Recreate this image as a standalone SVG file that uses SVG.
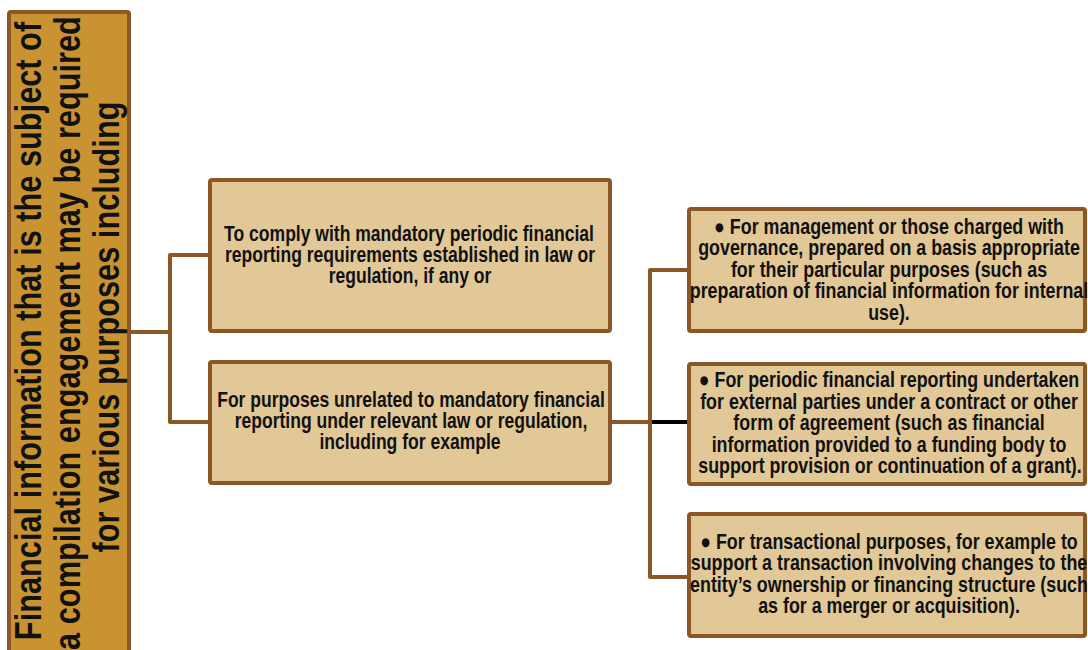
<svg xmlns="http://www.w3.org/2000/svg" width="1088" height="650" viewBox="0 0 1088 650">
<style>
.box{stroke:#8B5726;stroke-width:4;}
.root{fill:#C99332;}
.item{fill:#E2C897;}
.t{font-family:"Liberation Sans",Arial,sans-serif;font-weight:bold;fill:#111;text-anchor:middle;}
.big{font-size:37.5px;}
.md{font-size:21.4px;}
.sm{font-size:21.5px;}
.conn{fill:none;stroke:#8B5726;stroke-width:4;stroke-linejoin:round;}
.blk{fill:none;stroke:#000;stroke-width:4;}
</style>
<rect width="1088" height="650" fill="#fff"/>
<g id="connectors">
<path class="conn" d="M131 332 H170 M210 255 H170 V422 H210"/>
<path class="conn" d="M612 422 H650 M689 270 H650 V577 H689"/>
<path class="blk" d="M652 422 H689"/>
</g>
<g id="root">
<rect class="box root" x="9" y="12" width="120" height="660" rx="2"/>
<text class="t big" transform="translate(41 331) rotate(-90) scale(0.82 1)">Financial information that is the subject of</text>
<text class="t big" transform="translate(80 333) rotate(-90) scale(0.82 1)">a compilation engagement may be required</text>
<text class="t big" transform="translate(119 327) rotate(-90) scale(0.82 1)">for various purposes including</text>
</g>
<g id="mandatory">
<rect class="box item" x="210" y="180" width="400" height="151" rx="2"/>
<text class="t md" transform="translate(409 241) scale(0.82 1)">To comply with mandatory periodic financial</text>
<text class="t md" transform="translate(410 262) scale(0.82 1)">reporting requirements established in law or</text>
<text class="t md" transform="translate(410 283) scale(0.82 1)">regulation, if any or</text>
</g>
<g id="unrelated">
<rect class="box item" x="210" y="362" width="400" height="121" rx="2"/>
<text class="t md" transform="translate(411 407) scale(0.82 1)">For purposes unrelated to mandatory financial</text>
<text class="t md" transform="translate(411 428) scale(0.82 1)">reporting under relevant law or regulation,</text>
<text class="t md" transform="translate(410 449) scale(0.82 1)">including for example</text>
</g>
<g id="management">
<rect class="box item" x="689" y="209" width="396" height="122" rx="2"/>
<text class="t sm" transform="translate(889 234) scale(0.83 1)">● For management or those charged with</text>
<text class="t sm" transform="translate(889 255) scale(0.83 1)">governance, prepared on a basis appropriate</text>
<text class="t sm" transform="translate(889 277) scale(0.83 1)">for their particular purposes (such as</text>
<text class="t sm" transform="translate(889 298) scale(0.83 1)">preparation of financial information for internal</text>
<text class="t sm" transform="translate(889 320) scale(0.83 1)">use).</text>
</g>
<g id="periodic">
<rect class="box item" x="689" y="364" width="396" height="120" rx="2"/>
<text class="t sm" transform="translate(889 387) scale(0.83 1)">● For periodic financial reporting undertaken</text>
<text class="t sm" transform="translate(889 409) scale(0.83 1)">for external parties under a contract or other</text>
<text class="t sm" transform="translate(889 430) scale(0.83 1)">form of agreement (such as financial</text>
<text class="t sm" transform="translate(889 452) scale(0.83 1)">information provided to a funding body to</text>
<text class="t sm" transform="translate(890 473) scale(0.83 1)">support provision or continuation of a grant).</text>
</g>
<g id="transactional">
<rect class="box item" x="689" y="514" width="396" height="122" rx="2"/>
<text class="t sm" transform="translate(889 549) scale(0.83 1)">● For transactional purposes, for example to</text>
<text class="t sm" transform="translate(889 570) scale(0.83 1)">support a transaction involving changes to the</text>
<text class="t sm" transform="translate(889 592) scale(0.83 1)">entity’s ownership or financing structure (such</text>
<text class="t sm" transform="translate(889 613) scale(0.83 1)">as for a merger or acquisition).</text>
</g>
</svg>
